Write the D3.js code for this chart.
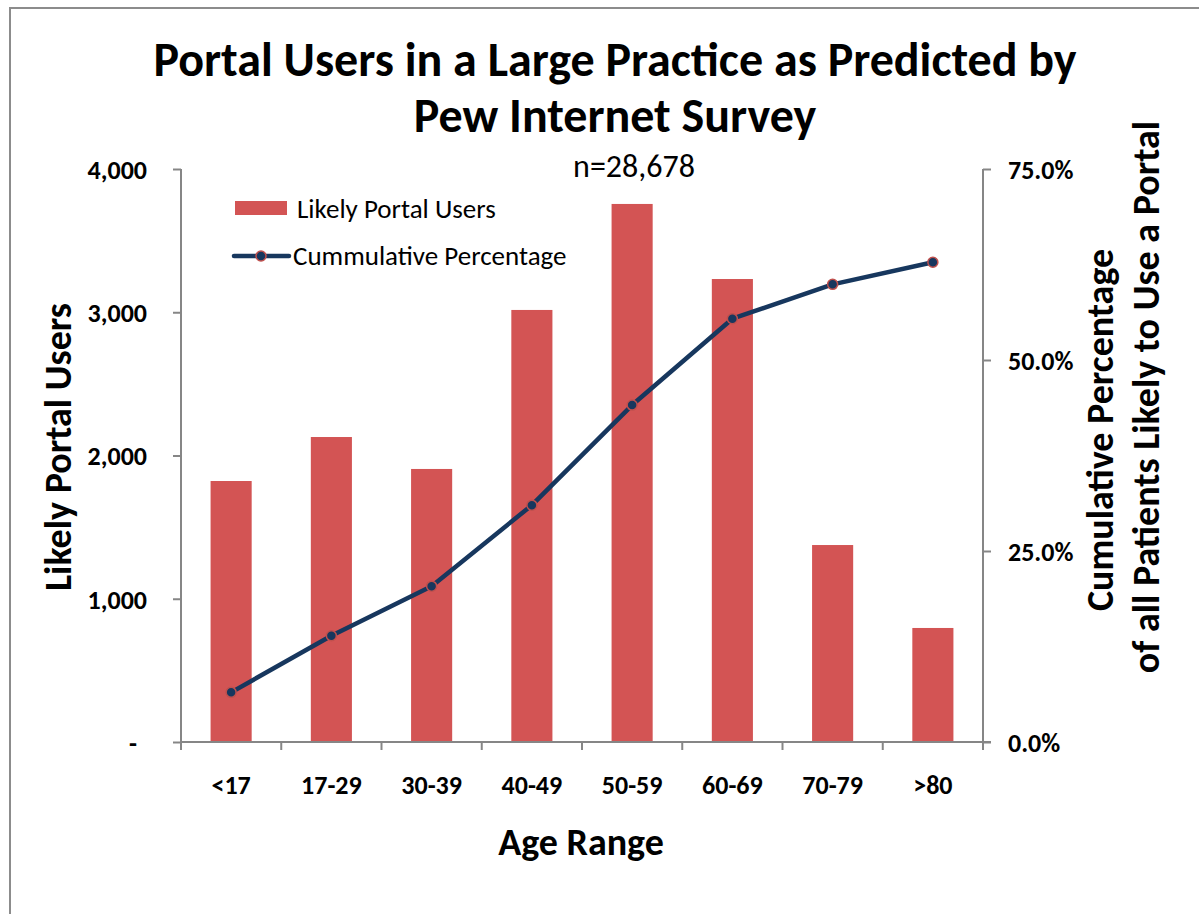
<!DOCTYPE html>
<html>
<head>
<meta charset="utf-8">
<script src="https://cdn.jsdelivr.net/npm/d3@7"></script>
<style>
  html, body { margin: 0; padding: 0; background: #fff; }
  svg { display: block; font-family: Carlito, Lato, "Open Sans", sans-serif; }
</style>
</head>
<body>
<svg id="chart" width="1199" height="914"></svg>
<script>
// ---- data ----
const categories = ["<17", "17-29", "30-39", "40-49", "50-59", "60-69", "70-79", ">80"];
const portalUsers = [1822, 2129, 1906, 3016, 3756, 3232, 1375, 796];
const cumulativePct = [6.5, 13.9, 20.4, 31.0, 44.1, 55.4, 59.9, 62.8];
const leftTicks = [0, 1000, 2000, 3000, 4000];
const rightTicks = [0, 25, 50, 75];
const titleLines = ["Portal Users in a Large Practice as Predicted by", "Pew Internet Survey"];
const subtitle = "n=28,678";
const seriesNames = ["Likely Portal Users", "Cummulative Percentage"];
const leftTitle = "Likely Portal Users";
const rightTitleLines = ["Cumulative Percentage", "of all Patients Likely to Use a Portal"];
const xTitle = "Age Range";

// ---- layout ----
const svg = d3.select("#chart");
const plot = { left: 181, right: 983, top: 169, bottom: 742 };
const barColor = "#D35454";
const lineColor = "#17375E";
const markerStroke = "#C0504D";
const axisColor = "#868686";

// outer border
svg.append("rect").attr("x", 10).attr("y", 8).attr("width", 1220).attr("height", 940)
  .attr("fill", "none").attr("stroke", "#8c8c8c").attr("stroke-width", 2);

const x = d3.scaleBand().domain(categories).range([plot.left, plot.right]).padding(0);
const yL = d3.scaleLinear().domain([0, 4000]).range([plot.bottom, plot.top]);
const yR = d3.scaleLinear().domain([0, 75]).range([plot.bottom, plot.top]);
const barW = x.bandwidth() * 0.41;

// bars
svg.append("g").selectAll("rect").data(categories).join("rect")
  .attr("x", d => x(d) + x.bandwidth() / 2 - barW / 2)
  .attr("y", (d, i) => yL(portalUsers[i]))
  .attr("width", barW)
  .attr("height", (d, i) => yL(0) - yL(portalUsers[i]))
  .attr("fill", barColor);

// axes
const leftAxis = d3.axisLeft(yL).tickValues(leftTicks).tickSize(8).tickPadding(26)
  .tickFormat(d => d === 0 ? "-" : d3.format(",")(d));
const gL = svg.append("g").attr("transform", `translate(${plot.left},0)`).call(leftAxis);
const rightAxis = d3.axisRight(yR).tickValues(rightTicks).tickSize(8).tickPadding(17)
  .tickFormat(d => d3.format(".1f")(d) + "%");
const gR = svg.append("g").attr("transform", `translate(${plot.right},0)`).call(rightAxis);

// bottom axis: ticks at category boundaries
const boundaries = categories.map(c => x(c)).concat([plot.right]);
const gB = svg.append("g");
gB.append("line").attr("x1", plot.left).attr("x2", plot.right + 8)
  .attr("y1", plot.bottom).attr("y2", plot.bottom);
gB.selectAll("line.tk").data(boundaries).join("line").attr("class", "tk")
  .attr("x1", d => d).attr("x2", d => d).attr("y1", plot.bottom).attr("y2", plot.bottom + 8);
gB.selectAll("text").data(categories).join("text")
  .attr("x", d => x(d) + x.bandwidth() / 2).attr("y", 794)
  .attr("text-anchor", "middle").text(d => d);

[gL, gR].forEach(g => {
  g.select(".domain").remove();
});
svg.append("line").attr("x1", plot.left).attr("x2", plot.left).attr("y1", plot.top).attr("y2", plot.bottom + 8);
svg.append("line").attr("x1", plot.right).attr("x2", plot.right).attr("y1", plot.top).attr("y2", plot.bottom + 8);
svg.selectAll("line").filter(function () { return !this.closest("g.lg"); })
  .attr("stroke", axisColor).attr("stroke-width", 2);
svg.selectAll(".tick line").attr("stroke", axisColor).attr("stroke-width", 2);

[gL, gR, gB].forEach(g => g.selectAll("text")
  .attr("font-size", 26).attr("font-weight", "bold").attr("fill", "#000")
  .attr("font-family", "Carlito, Lato, sans-serif"));
gL.selectAll(".tick text").attr("dy", "0.36em").filter(d => d === 0).attr("dx", -10);
gR.selectAll(".tick text").attr("dy", "0.36em");

// line
const line = d3.line().x((d, i) => x(categories[i]) + x.bandwidth() / 2).y(d => yR(d));
svg.append("path").datum(cumulativePct).attr("d", line)
  .attr("fill", "none").attr("stroke", lineColor).attr("stroke-width", 4.5)
  .attr("stroke-linejoin", "round");
svg.append("g").selectAll("circle").data(cumulativePct).join("circle")
  .attr("cx", (d, i) => x(categories[i]) + x.bandwidth() / 2).attr("cy", d => yR(d))
  .attr("r", 5).attr("fill", lineColor).attr("stroke", markerStroke).attr("stroke-width", 1.5);

// title
svg.append("g").selectAll("text").data(titleLines).join("text")
  .attr("x", 615).attr("y", (d, i) => 76 + i * 56)
  .attr("text-anchor", "middle").attr("font-size", 48).attr("font-weight", "bold")
  .text(d => d);
svg.append("text").attr("x", 634).attr("y", 177).attr("text-anchor", "middle")
  .attr("font-size", 32).text(subtitle);

// legend
const lg = svg.append("g").attr("class", "lg");
lg.append("rect").attr("x", 235).attr("y", 201).attr("width", 52).attr("height", 14).attr("fill", barColor);
lg.append("text").attr("x", 297).attr("y", 218).attr("font-size", 27).text(seriesNames[0]);
lg.append("line").attr("x1", 234).attr("x2", 289).attr("y1", 256).attr("y2", 256)
  .attr("stroke", lineColor).attr("stroke-width", 4.5).attr("stroke-linecap", "round");
lg.append("circle").attr("cx", 261).attr("cy", 256).attr("r", 5)
  .attr("fill", lineColor).attr("stroke", markerStroke).attr("stroke-width", 1.5);
lg.append("text").attr("x", 293).attr("y", 265).attr("font-size", 27).text(seriesNames[1]);

// axis titles
svg.append("text").attr("transform", "translate(71,447) rotate(-90)")
  .attr("text-anchor", "middle").attr("font-size", 38).attr("font-weight", "bold").text(leftTitle);
svg.append("text").attr("transform", "translate(1113,430) rotate(-90)")
  .attr("text-anchor", "middle").attr("font-size", 38).attr("font-weight", "bold").text(rightTitleLines[0]);
svg.append("text").attr("transform", "translate(1159,397) rotate(-90)")
  .attr("text-anchor", "middle").attr("font-size", 38).attr("font-weight", "bold").text(rightTitleLines[1]);
svg.append("text").attr("x", 581).attr("y", 855)
  .attr("text-anchor", "middle").attr("font-size", 38).attr("font-weight", "bold").text(xTitle);
</script>
</body>
</html>
